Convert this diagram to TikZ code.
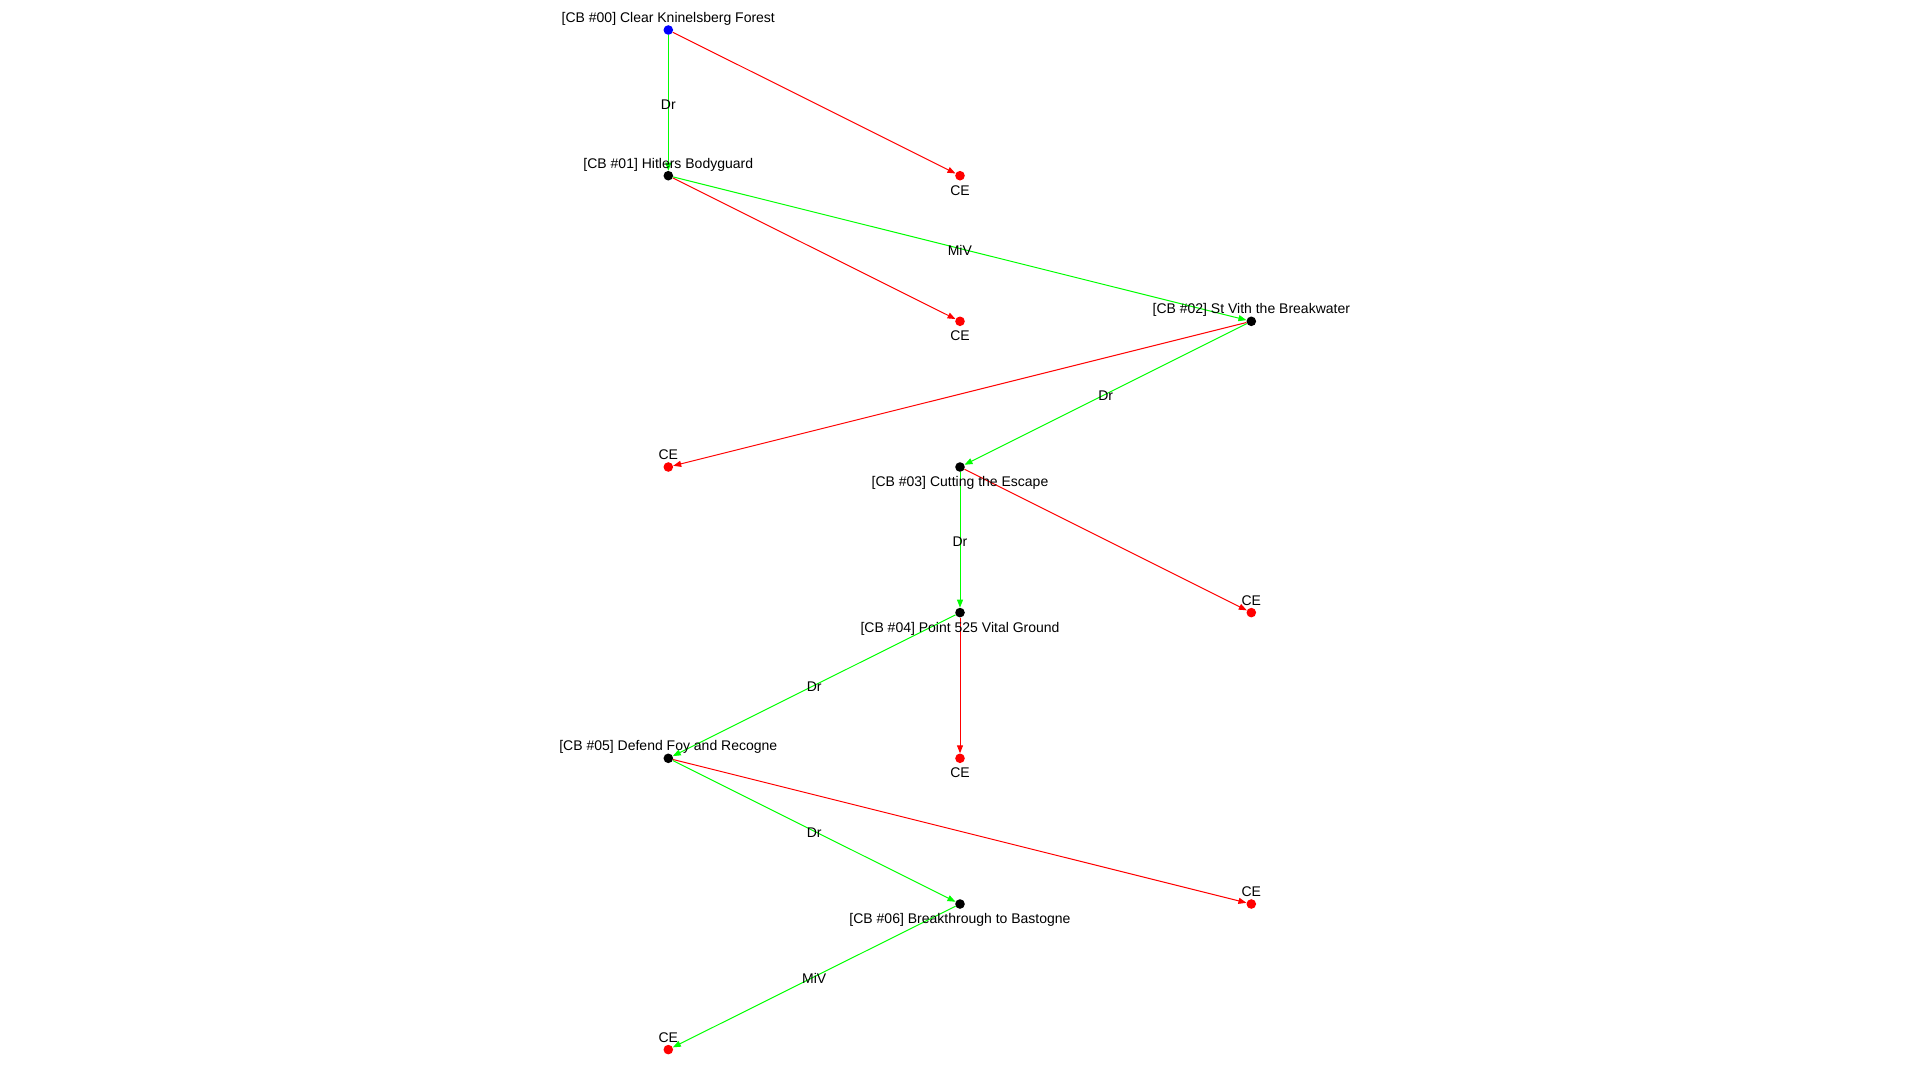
\documentclass[tikz,border=0pt]{standalone}
\usepackage{fontspec}
\setmainfont{Liberation Sans}
\usetikzlibrary{arrows.meta}
\begin{document}
\begin{tikzpicture}[x=1pt,y=-1pt,
  dot/.style={circle,inner sep=0pt,minimum size=9.6pt,fill=black,draw=none},
  bluedot/.style={dot,fill=blue},
  reddot/.style={dot,fill=red},
  lbl/.style={inner sep=0pt,anchor=base,font=\fontsize{14}{16}\selectfont},
  elbl/.style={inner sep=0pt,anchor=center,yshift=-1.5pt,font=\fontsize{14}{16}\selectfont},
  gedge/.style={draw={rgb,255:red,0;green,255;blue,0},line width=1pt,-{Triangle[length=8pt,width=6pt]}},
  redge/.style={draw=red,line width=1pt,-{Triangle[length=8pt,width=6pt]}}]
\useasboundingbox (0,0) rectangle (1920,1080);
\fill[white] (0,0) rectangle (1920,1080);
% nodes
\node[bluedot] (n0) at (668.3,30) {};
\node[reddot]  (c1) at (960,175.7) {};
\node[dot]     (n1) at (668.3,175.7) {};
\node[reddot]  (c2) at (960,321.3) {};
\node[dot]     (n2) at (1251.3,321.3) {};
\node[reddot]  (c3) at (668.3,467) {};
\node[dot]     (n3) at (960,467) {};
\node[reddot]  (c4) at (1251.3,612.6) {};
\node[dot]     (n4) at (960,612.6) {};
\node[dot]     (n5) at (668.3,758.3) {};
\node[reddot]  (c5) at (960,758.3) {};
\node[dot]     (n6) at (960,904) {};
\node[reddot]  (c6) at (1251.3,904) {};
\node[reddot]  (c7) at (668.3,1049.6) {};
% edges
\draw[gedge] (n0) -- node[elbl] (e01) {Dr} (n1);
\draw[redge] (n0) -- (c1);
\draw[redge] (n1) -- (c2);
\draw[gedge] (n1) -- node[elbl] (e12) {MiV} (n2);
\draw[redge] (n2) -- (c3);
\draw[gedge] (n2) -- node[elbl] (e23) {Dr} (n3);
\draw[redge] (n3) -- (c4);
\draw[gedge] (n3) -- node[elbl] (e34) {Dr} (n4);
\draw[gedge] (n4) -- node[elbl] (e45) {Dr} (n5);
\draw[redge] (n4) -- (c5);
\draw[gedge] (n5) -- node[elbl] (e56) {Dr} (n6);
\draw[redge] (n5) -- (c6);
\draw[gedge] (n6) -- node[elbl] (e67) {MiV} (c7);
% labels
\path (n0) ++(0,-7.5) node[lbl] (t0) {[CB \#00] Clear Kninelsberg Forest};
\path (n1) ++(0,-7.5) node[lbl] (t1) {[CB \#01] Hitlers Bodyguard};
\path (c1) ++(0,19.5) node[lbl] (tc1) {CE};
\path (c2) ++(0,19.5) node[lbl] (tc2) {CE};
\path (n2) ++(0,-7.5) node[lbl] (t2) {[CB \#02] St Vith the Breakwater};
\path (c3) ++(0,-7.5) node[lbl] (tc3) {CE};
\path (n3) ++(0,19.5) node[lbl] (t3) {[CB \#03] Cutting the Escape};
\path (c4) ++(0,-7.5) node[lbl] (tc4) {CE};
\path (n4) ++(0,19.5) node[lbl] (t4) {[CB \#04] Point 525 Vital Ground};
\path (n5) ++(0,-7.5) node[lbl] (t5) {[CB \#05] Defend Foy and Recogne};
\path (c5) ++(0,19.5) node[lbl] (tc5) {CE};
\path (n6) ++(0,19.5) node[lbl] (t6) {[CB \#06] Breakthrough to Bastogne};
\path (c6) ++(0,-7.5) node[lbl] (tc6) {CE};
\path (c7) ++(0,-7.5) node[lbl] (tc7) {CE};
\end{tikzpicture}
\end{document}
